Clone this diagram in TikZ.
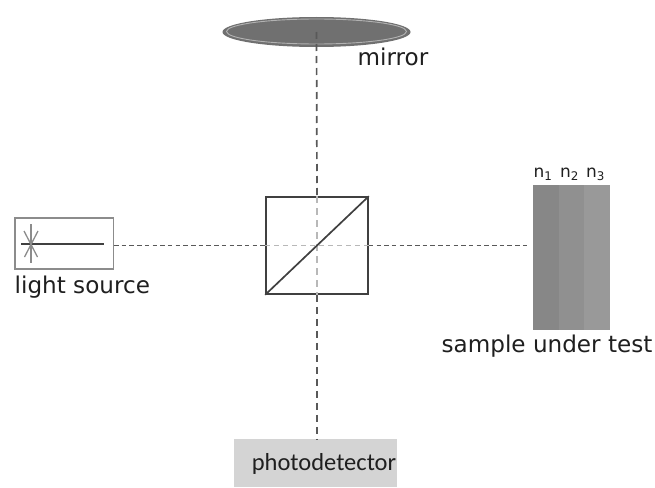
\documentclass[tikz,border=0pt]{standalone}
\usepackage{fontspec}
\setmainfont{DejaVu Sans}
\newfontfamily\detfont{Carlito}
\usetikzlibrary{shapes.geometric,calc}
\definecolor{mirrorgray}{gray}{0.44}
\definecolor{ringgray}{gray}{0.70}
\definecolor{lineblack}{gray}{0.25}
\definecolor{beamgray}{gray}{0.35}
\definecolor{innerbeam}{gray}{0.72}
\definecolor{srcgray}{gray}{0.55}
\definecolor{txtblack}{gray}{0.12}
\definecolor{layerA}{gray}{0.53}
\definecolor{layerB}{gray}{0.565}
\definecolor{layerC}{gray}{0.60}
\definecolor{detgray}{gray}{0.83}
\tikzset{
  beam/.style={draw=beamgray,line width=1.5pt,dash pattern=on 4.5pt off 3.2pt},
  vbeam/.style={draw=beamgray,line width=1.7pt,dash pattern=on 7pt off 5pt},
  innerdash/.style={draw=innerbeam,line width=1.7pt,dash pattern=on 7pt off 5pt},
  lbl/.style={inner sep=0pt,text=txtblack,font=\fontsize{23.1}{27}\selectfont,anchor=base west},
  nlbl/.style={inner sep=0pt,text=txtblack,font=\fontsize{17}{20}\selectfont,anchor=base west},
  layer/.style={inner sep=0pt,anchor=north west,minimum height=145pt},
  srcline/.style={draw=srcgray,line width=1.3pt},
}
\begin{document}
\begin{tikzpicture}[x=1pt,y=-1pt]
\useasboundingbox[fill=white] (0,0) rectangle (655,487);
% mirror
\node[ellipse,draw=none,fill=mirrorgray,minimum width=188pt,minimum height=30pt,inner sep=0pt] (mirror) at (316.5,32) {};
\node[ellipse,draw=ringgray,line width=0.9pt,minimum width=180pt,minimum height=25pt,inner sep=0pt] (ring) at (316.5,31.5) {};
\node[lbl] (mirrorlbl) at (357.5,65) {mirror};
% beam splitter
\node[rectangle,draw=lineblack,line width=1.6pt,minimum width=102pt,minimum height=97pt,inner sep=0pt] (cube) at (317,245.5) {};
\draw[innerdash] (cube.north) -- (cube.south);
\draw[draw=innerbeam,line width=1.4pt,dash pattern=on 5pt off 4pt] (cube.west) -- (cube.east);
\draw[draw=lineblack,line width=1.7pt] (cube.south west) -- (cube.north east);
% light source
\node[rectangle,draw=srcgray,line width=1.1pt,minimum width=98.5pt,minimum height=51pt,inner sep=0pt] (source) at (64.2,243.5) {};
\coordinate (lampc) at (31,244);
\coordinate (lampe) at (104,244);
\draw[draw=lineblack,line width=1.2pt] ($(lampc)+(-10,0)$) -- (lampe);
\draw[srcline] ($(lampc)+(0,-20)$) -- ($(lampc)+(0,19)$);
\draw[srcline] ($(lampc)+(-7,-13)$) -- ($(lampc)+(6.5,13)$);
\draw[srcline] ($(lampc)+(7,-13)$) -- ($(lampc)+(-6.5,13)$);
\node[lbl] (sourcelbl) at (14.5,293) {light source};
% sample
\node[layer,fill=layerA,minimum width=26.5pt] (n1box) at (532.5,185) {};
\node[layer,fill=layerB,minimum width=25pt] (n2box) at (559,185) {};
\node[layer,fill=layerC,minimum width=25.5pt] (n3box) at (584,185) {};
\node[nlbl] (n1) at (533.5,177.5) {n\textsubscript{1}};
\node[nlbl] (n2) at (560,177.5) {n\textsubscript{2}};
\node[nlbl] (n3) at (586,177.5) {n\textsubscript{3}};
\node[lbl] (samplelbl) at (441.5,352) {sample under test};
% photodetector
\node[rectangle,fill=detgray,minimum width=163pt,minimum height=48pt,inner sep=0pt,anchor=north west] (det) at (234,439) {};
\node[inner sep=0pt,text=txtblack,font=\detfont\fontsize{24.5}{28}\selectfont,anchor=base] (detlbl) at (324,470) {photodetector};
% beams
\coordinate (mirrorc) at (316.5,32);
\coordinate (sampleend) at (528,245.5);
\draw[vbeam] (mirrorc) -- (cube.north);
\draw[vbeam] (cube.south) -- (cube.south |- det.north);
\draw[beam] (source.east |- cube.west) -- (cube.west);
\draw[beam] (cube.east) -- (sampleend);
\end{tikzpicture}
\end{document}
